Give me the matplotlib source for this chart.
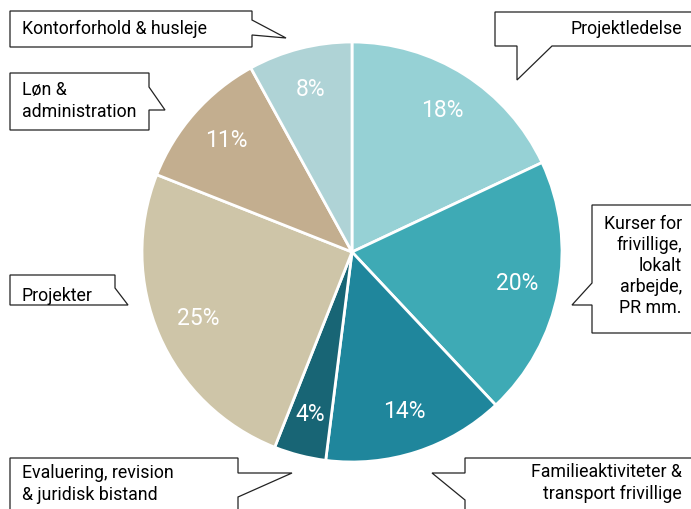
import matplotlib.pyplot as plt
from matplotlib.patches import Polygon

plt.rcParams['font.family'] = ['Roboto', 'DejaVu Sans']

# budget shares, clockwise from 12 o'clock
labels = ['Projektledelse', 'Kurser for frivillige, lokalt arbejde, PR mm.',
          'Familieaktiviteter & transport frivillige',
          'Evaluering, revision & juridisk bistand', 'Projekter',
          'Løn & administration', 'Kontorforhold & husleje']
shares = [18, 20, 14, 4, 25, 11, 8]
colors = ['#96d1d5', '#3eaab5', '#1f869c', '#186575', '#cec5a8', '#c3ae8f', '#afd3d6']

W, H = 691, 509


def px(pts):
    # pixel coords (y down) -> data coords (y up)
    return [(x, H - y) for x, y in pts]


fig = plt.figure(figsize=(W / 100, H / 100), dpi=100)
ax = fig.add_axes([0, 0, 1, 1])

wedges, _, autotexts = ax.pie(
    shares, colors=colors, startangle=90, counterclock=False,
    center=(352, H - 252), radius=210, autopct='%d%%', pctdistance=0.8,
    wedgeprops=dict(edgecolor='white', linewidth=2), frame=True)
ax.set_xlim(0, W)
ax.set_ylim(0, H)
ax.set_aspect('equal')
ax.axis('off')
for t in autotexts:
    t.set_color('white')
    t.set_fontsize(16.5)

# speech-bubble callouts
callouts = [
    [(10, 11), (252, 11), (252, 20), (286, 38), (252, 35), (252, 47), (10, 47)],
    [(10, 73), (149, 73), (149, 87), (165, 110), (149, 110), (149, 130), (10, 130)],
    [(495, 12), (700, 12), (700, 46), (552, 46), (517, 80), (517, 46), (495, 46)],
    [(592, 205), (700, 205), (700, 333), (592, 333), (592, 305), (572, 305), (592, 283)],
    [(10, 275), (115, 275), (115, 288), (128, 305), (115, 305), (115, 305), (10, 305)],
    [(10, 458), (238, 458), (238, 473), (292, 473), (238, 497), (238, 520), (10, 520)],
    [(465, 458), (700, 458), (700, 520), (465, 520), (465, 500), (432, 473), (465, 473)],
]
for pts in callouts:
    ax.add_patch(Polygon(px(pts), closed=True, facecolor='white',
                         edgecolor='#222222', linewidth=0.9, zorder=3))

fs = 12.8
ls = 1.22
ax.text(22, H - 29, 'Kontorforhold & husleje', fontsize=fs, va='center', ha='left', zorder=4)
ax.text(22, H - 101, 'Løn &\nadministration', fontsize=fs, va='center', ha='left',
        linespacing=ls, zorder=4)
ax.text(682, H - 29, 'Projektledelse', fontsize=fs, va='center', ha='right', zorder=4)
ax.text(682, H - 266, 'Kurser for\nfrivillige,\nlokalt\narbejde,\nPR mm.', fontsize=fs,
        va='center', ha='right', linespacing=ls, zorder=4)
ax.text(22, H - 296, 'Projekter', fontsize=fs, va='center', ha='left', zorder=4)
ax.text(22, H - 484, 'Evaluering, revision\n& juridisk bistand', fontsize=fs,
        va='center', ha='left', linespacing=ls, zorder=4)
ax.text(682, H - 483, 'Familieaktiviteter &\ntransport frivillige', fontsize=fs,
        va='center', ha='right', linespacing=ls, zorder=4)

fig.savefig('out.png', dpi=100)
